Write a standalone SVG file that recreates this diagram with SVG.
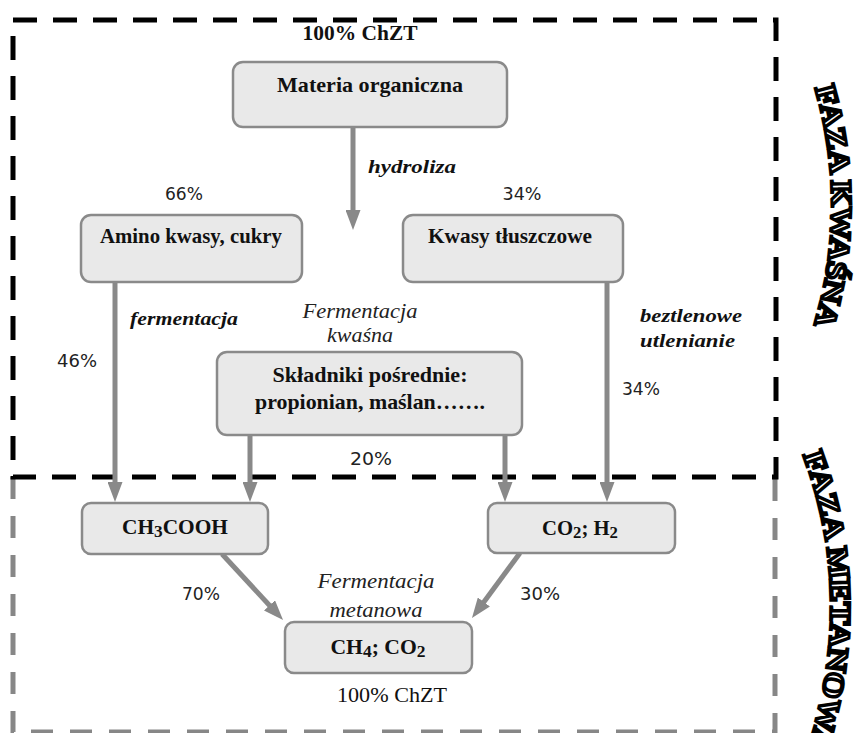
<svg xmlns="http://www.w3.org/2000/svg" width="859" height="733" viewBox="0 0 859 733">
<style>
.box{fill:#e9e9e9;stroke:#8a8a8a;stroke-width:2.5}
.lbl{font-family:"Liberation Serif",serif;font-weight:bold;font-size:21px;fill:#111}
.pct{font-family:"DejaVu Sans",sans-serif;font-size:17px;fill:#222}
.chzt{font-family:"Liberation Serif",serif;font-size:22px;fill:#111}
.it{font-family:"Liberation Serif",serif;font-style:italic;font-size:20px;fill:#222}
.bi{font-family:"Liberation Serif",serif;font-style:italic;font-weight:bold;font-size:19px;fill:#111}
.arr{stroke:#898989;stroke-width:5;fill:none}
.faza{font-family:"Liberation Serif",serif;font-weight:bold;font-size:29px;fill:#fff;stroke:#000;stroke-width:3}
</style>
<defs>
<marker id="ah" markerUnits="userSpaceOnUse" viewBox="0 0 20 15" refX="8" refY="7.5" markerWidth="20" markerHeight="15" orient="auto">
<path d="M0 0 L20 7.5 L0 15 Z" fill="#898989"/>
</marker>
<path id="arcK" d="M815 88 Q850 210 812 332"/>
<path id="arcM" d="M803 455 Q857 600 806 755"/>
</defs>

<g id="phases">
<path d="M13 477 V732 H775 V477" fill="none" stroke="#878787" stroke-width="5" stroke-dasharray="22 17"/>
<rect x="13" y="20" width="763" height="457" fill="none" stroke="#000" stroke-width="5" stroke-dasharray="24 16"/>
<text class="faza"><textPath href="#arcK" textLength="240" lengthAdjust="spacingAndGlyphs">FAZA KWAŚNA</textPath></text>
<text class="faza"><textPath href="#arcM" textLength="300" lengthAdjust="spacingAndGlyphs">FAZA METANOWA</textPath></text>
</g>

<g id="connectors">
<line class="arr" x1="353" y1="127" x2="353" y2="218" marker-end="url(#ah)"/>
<line class="arr" x1="115" y1="282" x2="115" y2="490" marker-end="url(#ah)"/>
<line class="arr" x1="250" y1="435" x2="250" y2="490" marker-end="url(#ah)"/>
<line class="arr" x1="505" y1="435" x2="505" y2="490" marker-end="url(#ah)"/>
<line class="arr" x1="607" y1="282" x2="607" y2="490" marker-end="url(#ah)"/>
<line class="arr" x1="222" y1="554" x2="274.9" y2="611.2" marker-end="url(#ah)"/>
<line class="arr" x1="520" y1="553" x2="479.1" y2="608.4" marker-end="url(#ah)"/>
</g>

<g id="labels">
<text class="chzt" x="360" y="40" text-anchor="middle" textLength="115" lengthAdjust="spacingAndGlyphs" font-weight="bold">100% ChZT</text>
<text class="bi" x="368" y="173" textLength="88" lengthAdjust="spacingAndGlyphs">hydroliza</text>
<text class="pct" x="184" y="200" text-anchor="middle" textLength="38" lengthAdjust="spacingAndGlyphs">66%</text>
<text class="pct" x="522" y="200" text-anchor="middle" textLength="39" lengthAdjust="spacingAndGlyphs">34%</text>
<text class="bi" x="130" y="325" textLength="108" lengthAdjust="spacingAndGlyphs">fermentacja</text>
<text class="pct" x="57" y="367" textLength="40" lengthAdjust="spacingAndGlyphs">46%</text>
<text class="it" x="360" y="318" text-anchor="middle" textLength="115" lengthAdjust="spacingAndGlyphs">Fermentacja</text>
<text class="it" x="360" y="342" text-anchor="middle" textLength="66" lengthAdjust="spacingAndGlyphs">kwaśna</text>
<text class="bi" x="640" y="322" textLength="102" lengthAdjust="spacingAndGlyphs">beztlenowe</text>
<text class="bi" x="640" y="347" textLength="95" lengthAdjust="spacingAndGlyphs">utlenianie</text>
<text class="pct" x="622" y="395" textLength="38" lengthAdjust="spacingAndGlyphs">34%</text>
<text class="pct" x="371" y="465" text-anchor="middle" textLength="42" lengthAdjust="spacingAndGlyphs">20%</text>
<text class="pct" x="182" y="600" textLength="38" lengthAdjust="spacingAndGlyphs">70%</text>
<text class="pct" x="520" y="600" textLength="40" lengthAdjust="spacingAndGlyphs">30%</text>
<text class="it" x="376" y="588" text-anchor="middle" textLength="117" lengthAdjust="spacingAndGlyphs">Fermentacja</text>
<text class="it" x="376" y="617" text-anchor="middle" textLength="93" lengthAdjust="spacingAndGlyphs">metanowa</text>
<text class="chzt" x="392" y="702" text-anchor="middle" textLength="110" lengthAdjust="spacingAndGlyphs">100% ChZT</text>
</g>

<g id="node-materia">
<rect class="box" x="233" y="62" width="274" height="65" rx="10"/>
<text class="lbl" x="370" y="92" text-anchor="middle" textLength="186" lengthAdjust="spacingAndGlyphs">Materia organiczna</text>
</g>
<g id="node-amino">
<rect class="box" x="81" y="215" width="221" height="67" rx="10"/>
<text class="lbl" x="191" y="243" text-anchor="middle" textLength="182" lengthAdjust="spacingAndGlyphs">Amino kwasy, cukry</text>
</g>
<g id="node-kwasy">
<rect class="box" x="403" y="215" width="220" height="67" rx="10"/>
<text class="lbl" x="510" y="243" text-anchor="middle" textLength="164" lengthAdjust="spacingAndGlyphs">Kwasy tłuszczowe</text>
</g>
<g id="node-skladniki">
<rect class="box" x="217" y="352" width="305" height="83" rx="10"/>
<text class="lbl" x="370" y="382" text-anchor="middle" textLength="195" lengthAdjust="spacingAndGlyphs">Składniki pośrednie:</text>
<text class="lbl" x="370" y="409" text-anchor="middle" textLength="230" lengthAdjust="spacingAndGlyphs">propionian, maślan…….</text>
</g>
<g id="node-ch3cooh">
<rect class="box" x="82" y="503" width="186" height="51" rx="9"/>
<text class="lbl" x="175" y="534" text-anchor="middle" textLength="106" lengthAdjust="spacingAndGlyphs">CH<tspan font-size="17" dy="3">3</tspan><tspan dy="-3">COOH</tspan></text>
</g>
<g id="node-co2h2">
<rect class="box" x="488" y="503" width="187" height="50" rx="9"/>
<text class="lbl" x="580" y="535" text-anchor="middle" textLength="76" lengthAdjust="spacingAndGlyphs">CO<tspan font-size="17" dy="3">2</tspan><tspan dy="-3">; H</tspan><tspan font-size="17" dy="3">2</tspan></text>
</g>
<g id="node-ch4co2">
<rect class="box" x="285" y="622" width="187" height="51" rx="9"/>
<text class="lbl" x="378" y="654" text-anchor="middle" textLength="95" lengthAdjust="spacingAndGlyphs">CH<tspan font-size="17" dy="3">4</tspan><tspan dy="-3">; CO</tspan><tspan font-size="17" dy="3">2</tspan></text>
</g>
</svg>
